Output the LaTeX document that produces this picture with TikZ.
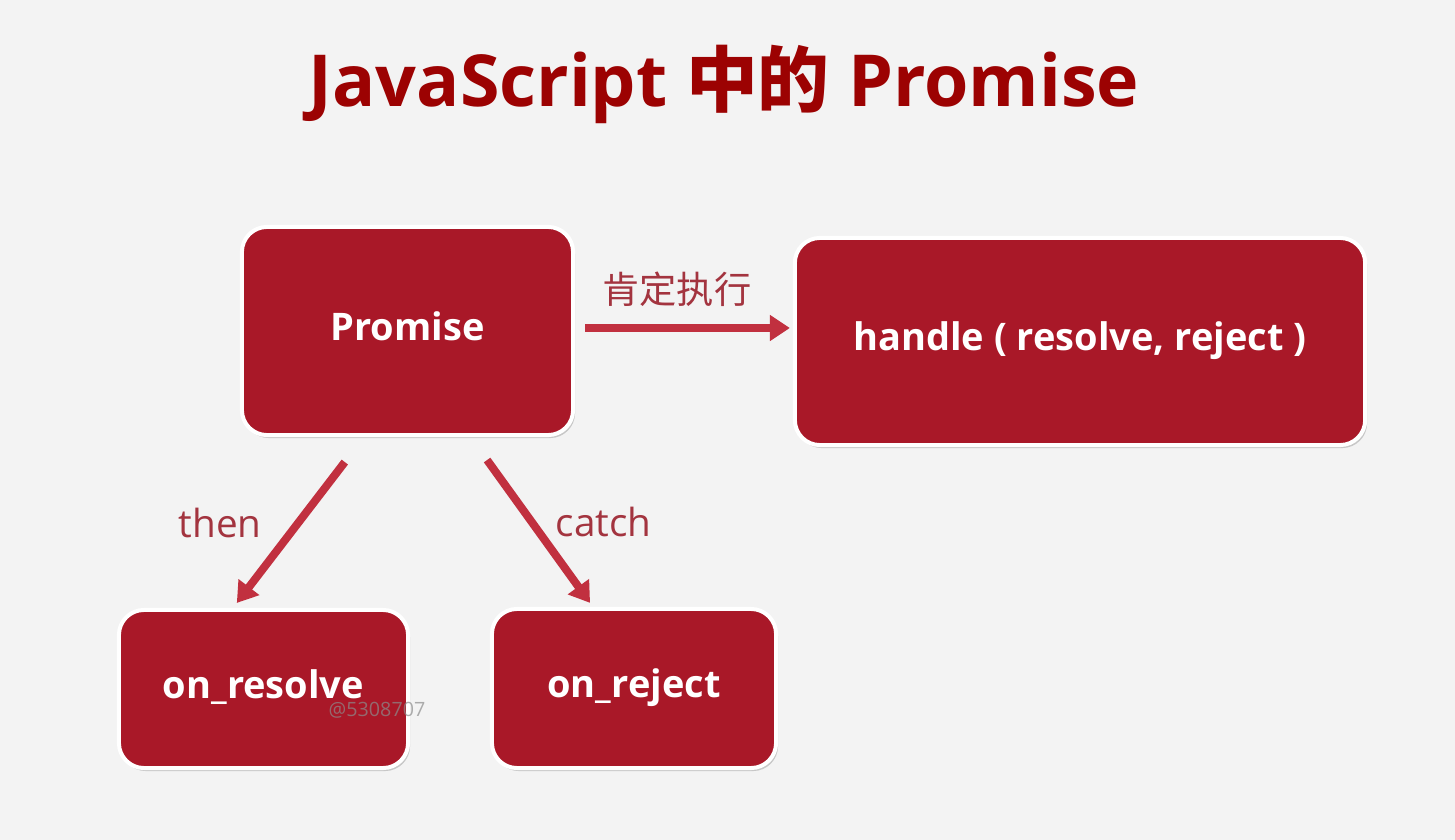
\documentclass[tikz,border=0pt]{standalone}
\usepackage{fontspec}
\setmainfont{Open Sans}
\newfontfamily\cjk{Noto Sans CJK SC}
\usepackage{tikz}
\usetikzlibrary{arrows.meta, positioning, calc, shadows}

\definecolor{bgcol}{HTML}{F3F3F3}
\definecolor{boxred}{HTML}{A91828}
\definecolor{titlered}{HTML}{9C0202}
\definecolor{arrowred}{HTML}{C1303F}
\definecolor{labelred}{HTML}{A3343F}

\tikzset{
    box/.style={draw=white, line width=0.04cm, fill=boxred, rounded corners=0.25cm,
        text=white, font=\bfseries\fontsize{10.8}{13}\selectfont, inner sep=0pt,
        text depth=0.1cm,
        drop shadow={shadow xshift=0.02cm, shadow yshift=-0.03cm, fill=black, opacity=0.18}},
    flow/.style={arrowred, line width=0.08cm, -{Triangle[length=0.2cm, width=0.25cm]}},
    lbl/.style={text=labelred, inner sep=0pt, font=\fontsize{11}{13}\selectfont}
}

\begin{document}
\begin{tikzpicture}[x=0.01cm, y=-0.01cm]
    % 背景
    \fill[bgcol] (0,0) rectangle (1455,840);
    \useasboundingbox (0,0) rectangle (1455,840);

    % 标题
    \node[anchor=base, text=titlered, font=\bfseries\fontsize{20.4}{24}\selectfont, inner sep=0pt]
        (title) at (724,107) {JavaScript {\cjk 中的} Promise};

    % 方框
    \node[box, minimum width=3.31cm, minimum height=2.08cm] (promise) at (407.5,331) {Promise};
    \node[box, minimum width=5.70cm, minimum height=2.07cm] (handle) at (1080,341.5) {handle ( resolve, reject )};
    \node[box, minimum width=2.89cm, minimum height=1.58cm] (resolve) at (263.5,689) {on\_resolve};
    \node[box, minimum width=2.84cm, minimum height=1.59cm] (reject) at (634,688.5) {on\_reject};

    % 水印
    \node[text=black!45, font=\fontsize{5.6}{6}\selectfont, inner sep=0pt, opacity=0.7] (mark) at (377,710) {@5308707};

    % 箭头
    \draw[flow, shorten <=0.1cm, shorten >=0.03cm]
        ([yshift=0.03cm]promise.east) -- ([yshift=0.03cm]promise.east -| handle.west)
        node[lbl, midway, above=0.17cm, xshift=-0.07cm, font=\cjk\fontsize{10.6}{12}\selectfont] (sure) {肯定执行};
    \draw[flow, shorten <=0.315cm, shorten >=0.063cm]
        ([xshift=-0.435cm]promise.south) -- ([xshift=-0.305cm]resolve.north)
        node[lbl, midway, left=0.33cm] (then) {then};
    \draw[flow, shorten <=0.283cm, shorten >=0.05cm]
        ([xshift=0.63cm]promise.south) -- ([xshift=-0.41cm]reject.north)
        node[lbl, midway, right=0.2cm] (catch) {catch};
\end{tikzpicture}
\end{document}
